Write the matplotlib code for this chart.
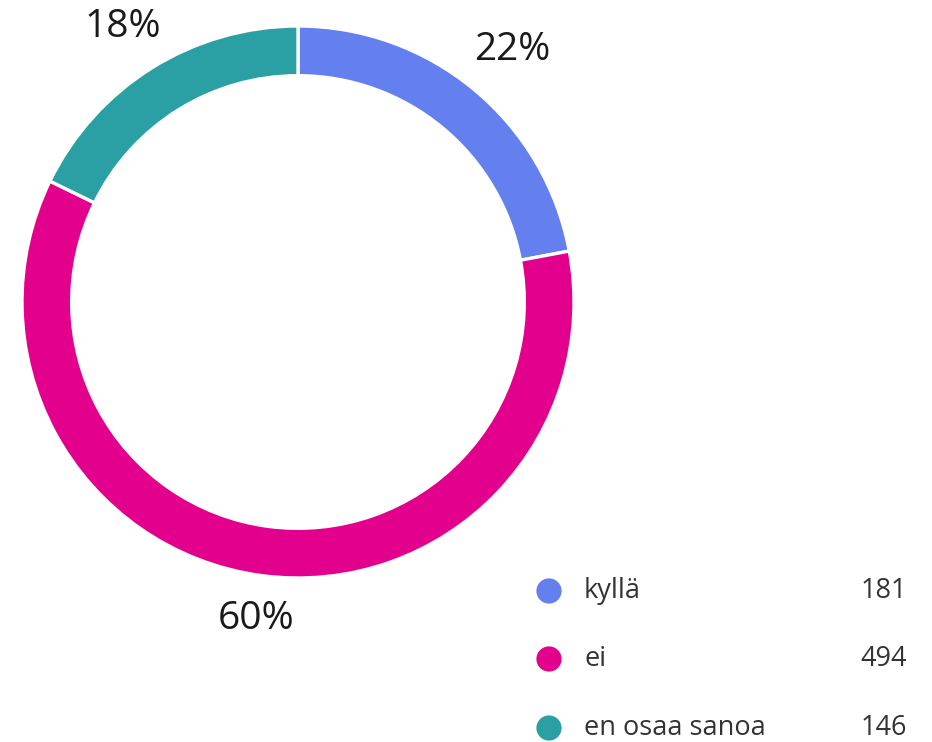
import numpy as np
import matplotlib.pyplot as plt

# Survey answers
categories = ['kyllä', 'ei', 'en osaa sanoa']
counts = [181, 494, 146]
colors = ['#6480EE', '#E3008C', '#2AA0A4']

W, H = 932, 742
fig = plt.figure(figsize=(W / 100, H / 100), dpi=100)

# donut axes, placed in pixels: centre (298, 302), radius 276
cx, cy, R = 298, 302, 276
ax = fig.add_axes([(cx - R) / W, (H - cy - R) / H, 2 * R / W, 2 * R / H])
wedges, _ = ax.pie(counts, colors=colors, startangle=90, counterclock=False,
                   radius=1, wedgeprops=dict(width=0.18, edgecolor='white', linewidth=2.4))
ax.set_xlim(-1, 1)
ax.set_ylim(-1, 1)
ax.axis('off')

total = sum(counts)
for w, c in zip(wedges, counts):
    ang = np.deg2rad((w.theta1 + w.theta2) / 2)
    dx, dy = np.cos(ang), np.sin(ang)
    r = 1.075 + abs(dx) * 0.175 + abs(dy) * 0.039
    ax.text(r * dx, r * dy - 0.022, f'{round(100 * c / total)}%', ha='center', va='center',
            fontsize=28, family='Open Sans', fontweight='medium', color='#1a1a1a',
            clip_on=False)

# legend drawn in pixel coordinates
lg = fig.add_axes([0, 0, 1, 1])
lg.set_xlim(0, W)
lg.set_ylim(H, 0)
lg.axis('off')
rows_y = [591, 659, 728]
for y, name, c, col in zip(rows_y, categories, counts, colors):
    lg.scatter([549], [y], s=330, color=col, edgecolors='none')
    lg.text(584, y, name, ha='left', va='center', fontsize=19.5,
            family='Open Sans', color='#333333')
    lg.text(907, y, str(c), ha='right', va='center', fontsize=19.5,
            family='Open Sans', color='#333333')

fig.savefig('out.png', dpi=100)
